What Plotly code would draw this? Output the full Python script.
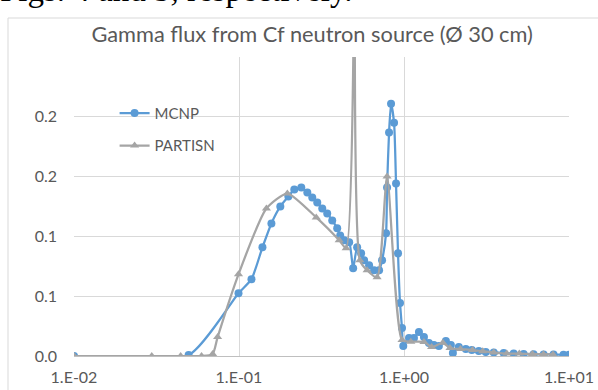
import plotly.graph_objects as go

# ---- data ----
mcnp_x = [0.01, 0.0495, 0.0993, 0.119, 0.1387, 0.1572, 0.178, 0.1991, 0.2164, 0.2385,
          0.2594, 0.278, 0.298, 0.3196, 0.3425, 0.3673, 0.3937, 0.4105, 0.434, 0.4653,
          0.4918, 0.52, 0.5495, 0.5731, 0.6144, 0.6587, 0.7063, 0.7363, 0.7785, 0.7896,
          0.8117, 0.8347, 0.8702, 0.8948, 0.92, 0.946, 0.9725, 0.99, 1.072, 1.149,
          1.232, 1.321, 1.416, 1.518, 1.627, 1.794, 1.923, 1.978, 2.149, 2.37,
          2.576, 2.84, 3.13, 3.5, 4.02, 4.62, 5.31, 6.1, 7.02, 8.06, 9.26, 10.0]
mcnp_y = [0.0, 0.0008, 0.0525, 0.0642, 0.0908, 0.1108, 0.125, 0.1333, 0.1392, 0.1408,
          0.1367, 0.1325, 0.1283, 0.1233, 0.1192, 0.1133, 0.1067, 0.1008, 0.0967, 0.095,
          0.0733, 0.0908, 0.0858, 0.08, 0.0758, 0.0717, 0.0717, 0.08, 0.1025, 0.1408,
          0.1867, 0.2108, 0.195, 0.1442, 0.0858, 0.0442, 0.0233, 0.0083, 0.015, 0.015,
          0.02, 0.0158, 0.0108, 0.0092, 0.0083, 0.0125, 0.0092, 0.0025, 0.0075, 0.0058,
          0.005, 0.0042, 0.0033, 0.003, 0.0025, 0.002, 0.0017, 0.0015, 0.0013, 0.0012,
          0.001, 0.001]

partisn_x = [0.01, 0.0296, 0.0443, 0.0593, 0.0692, 0.0742, 0.0993, 0.1466, 0.1964, 0.2939,
             0.4048, 0.4462, 0.52, 0.54, 0.5975, 0.6869, 0.7896, 0.9725, 1.1, 1.321,
             1.47, 1.72, 1.9, 2.2, 2.6, 3.0, 3.5, 4.2, 5.0, 6.0, 7.0, 8.0]
partisn_y = [0.0, 0.0, 0.0, 0.0, 0.0017, 0.0158, 0.0683, 0.1233, 0.1358, 0.1158,
             0.0967, 0.09, 0.75, 0.08, 0.0717, 0.0658, 0.15, 0.0133, 0.012, 0.0117,
             0.0075, 0.011, 0.0067, 0.0058, 0.005, 0.004, 0.003, 0.002, 0.002, 0.0017,
             0.0015, 0.0013]

x_tickvals = [0.01, 0.1, 1, 10]
x_ticktext = ["1.E-02", "1.E-01", "1.E+00", "1.E+01"]
y_tickvals = [0, 0.05, 0.1, 0.15, 0.2]
y_ticktext = ["0.0", "0.1", "0.1", "0.2", "0.2"]

BLUE = "#5B9BD5"
GRAY = "#A5A5A5"
TXT = "#595959"
FONT = "Lato"

fig = go.Figure()
fig.add_trace(go.Scatter(
    x=mcnp_x, y=mcnp_y, name="MCNP", mode="lines+markers", legendgroup="a",
    line=dict(color=BLUE, width=2.25, shape="spline", smoothing=0.6),
    marker=dict(symbol="circle", size=8, color=BLUE)))
fig.add_trace(go.Scatter(
    x=partisn_x, y=partisn_y, name="PARTISN", mode="lines+markers", legendgroup="b",
    line=dict(color=GRAY, width=2.25, shape="spline", smoothing=0.6),
    marker=dict(symbol="triangle-up", size=8, color=GRAY)))

L, R, T, B = 74, 569, 57, 356
PW, PH = R - L, B - T

fig.update_layout(
    width=598, height=390,
    margin=dict(l=L, r=598 - R, t=T, b=390 - B),
    paper_bgcolor="white", plot_bgcolor="white",
    font=dict(family=FONT, color=TXT, size=16),
    title=dict(text="Gamma flux from Cf neutron source (Ø 30 cm)",
               x=0.522, xanchor="center", xref="container",
               y=1 - 34.5 / 390, yanchor="middle", yref="container", pad=dict(t=0, b=0),
               font=dict(family=FONT, size=21.8, color=TXT)),
    showlegend=True,
    legend=dict(x=0.082, y=0.867, xanchor="left", yanchor="top",
                bgcolor="rgba(0,0,0,0)", tracegroupgap=10,
                font=dict(family=FONT, size=15, color=TXT)),
    xaxis=dict(type="log", range=[-2, 1], tickvals=x_tickvals, ticktext=x_ticktext,
               showgrid=True, gridcolor="#D9D9D9", gridwidth=1, automargin=False,
               showline=False, zeroline=False, ticks="", ticklabelstandoff=10,
               tickfont=dict(family=FONT, size=16, color=TXT)),
    yaxis=dict(range=[0, 0.2499], tickvals=y_tickvals, ticktext=y_ticktext,
               showgrid=True, gridcolor="#D9D9D9", gridwidth=1, automargin=False,
               showline=False, zeroline=True, zerolinecolor="#BFBFBF", zerolinewidth=1,
               ticks="", ticklabelstandoff=16,
               tickfont=dict(family=FONT, size=16, color=TXT)),
    shapes=[dict(type="rect", xref="paper", yref="paper",
                 x0=(8 - L) / PW, x1=(620 - L) / PW,
                 y0=(B - 400) / PH, y1=(B - 18) / PH,
                 line=dict(color="#D9D9D9", width=1), layer="below")],
    annotations=[dict(text="Figs. 4 and 5, respectively.", xref="paper", yref="paper",
                      x=(-2 - L) / PW, y=(B - 10) / PH, xanchor="left", yanchor="bottom",
                      showarrow=False,
                      font=dict(family="Liberation Serif", size=33, color="#000000"))],
)

fig.write_html("out.html", config={"displayModeBar": False},
               post_script="document.body.style.margin='0';document.body.style.padding='0';")
